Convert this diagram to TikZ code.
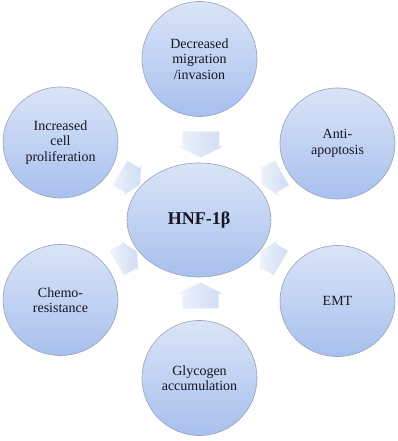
\documentclass[tikz,border=0pt]{standalone}
\usepackage{fontspec}
\setmainfont{Liberation Serif}
\usepackage{xcolor}
\usepackage{tikz}
\usetikzlibrary{positioning, shapes.geometric, shapes.arrows}

\definecolor{circtop}{HTML}{DAE4F7}
\definecolor{circbot}{HTML}{A8C0EE}
\definecolor{circedge}{HTML}{96A2BA}
\definecolor{arrtail}{HTML}{EEF2FB}
\definecolor{arrtip}{HTML}{D0DCF3}
\definecolor{ink}{HTML}{161622}

\begin{document}
\begin{tikzpicture}[
  x=1pt, y=1pt,
  font=\fontsize{14}{15.5}\selectfont,
  bubble/.style={ellipse, draw=circedge, line width=0.6pt, top color=circtop,
    bottom color=circbot, text=ink, align=center, inner sep=0pt,
    minimum width=115pt, minimum height=111pt},
  hub/.style={bubble, minimum width=144pt, minimum height=114pt,
    font=\fontsize{18}{20}\selectfont\bfseries},
  push/.style={single arrow, draw=arrtip!40, line width=0.3pt,
    left color=arrtail, right color=arrtip,
    inner xsep=0pt, inner ysep=18pt, minimum height=26pt,
    single arrow head extend=4pt, single arrow tip angle=127},
  slant/.style={push, inner ysep=14pt, minimum height=23pt,
    single arrow head extend=3.5pt}
]
\useasboundingbox (0,0) rectangle (398,441);

\node[hub] (hnf) at (199,221) {HNF-1β};

% outer effects
\node[bubble, minimum height=115pt] (migr) at (199.5,382) {Decreased\\migration\\/invasion};
\node[bubble] (prolif) at (60.5,298.5) {Increased\\cell\\proliferation};
\node[bubble] (apopt)  at (337.5,297.5) {Anti-\\apoptosis};
\node[bubble] (chemo)  at (60.5,141) {Chemo-\\resistance};
\node[bubble] (emt)    at (337.5,140) {EMT};
\node[bubble, minimum height=115pt] (glyc) at (199.5,63) {Glycogen\\accumulation};

% block arrows into the hub
\node[push, rotate=-90]   (a-migr)   at (201,301) {};
\node[slant, rotate=-30]  (a-prolif) at (127,264) {};
\node[slant, rotate=-150] (a-apopt)  at (275,264) {};
\node[slant, rotate=30]   (a-chemo)  at (124,182) {};
\node[slant, rotate=150]  (a-emt)    at (274,182) {};
\node[push, rotate=90]    (a-glyc)   at (200.5,141) {};
\end{tikzpicture}
\end{document}
